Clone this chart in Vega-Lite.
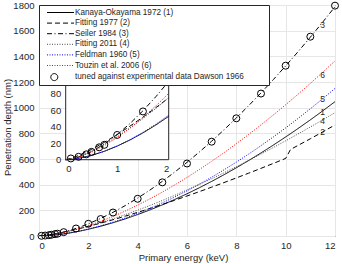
{
  "$schema": "https://vega.github.io/schema/vega-lite/v6.json",
  "width": 296,
  "height": 231,
  "autosize": "none",
  "padding": {"left": 39, "top": 5, "right": 7, "bottom": 28},
  "config": {
    "font": "Liberation Sans",
    "view": {"stroke": "#262626", "strokeWidth": 1},
    "axis": {
      "labelFont": "Liberation Sans", "labelFontSize": 9.5, "labelColor": "#262626",
      "titleFont": "Liberation Sans", "titleFontSize": 9.5, "titleFontWeight": "normal", "titleColor": "#262626",
      "ticks": false, "domain": false, "gridColor": "#e6e6e6", "gridWidth": 1, "format": "d"
    },
    "legend": {
      "orient": "top-left", "offset": 0, "padding": 2,
      "fillColor": "white", "strokeColor": "#262626",
      "labelFont": "Liberation Sans", "labelFontSize": 8.2, "labelColor": "#262626",
      "labelOffset": 23, "rowPadding": 1.6, "symbolSize": 100, "symbolStrokeWidth": 1, "labelLimit": 400
    }
  },
  "datasets": {
    "curves": [
      {"E":0,"KO":0,"F77":0,"S84":0,"F11":0,"F60":0,"T06":0},
      {"E":0.1,"KO":0.35,"F77":1.54,"S84":0.7,"F11":1.06,"F60":0.32,"T06":0.71},
      {"E":0.25,"KO":1.63,"F77":5.05,"S84":3.15,"F11":3.89,"F60":1.55,"T06":3.01},
      {"E":0.5,"KO":5.19,"F77":12.41,"S84":9.8,"F11":10.44,"F60":5.07,"T06":9.0},
      {"E":0.75,"KO":10.21,"F77":21.0,"S84":19.04,"F11":18.59,"F60":10.12,"T06":17.07},
      {"E":1,"KO":16.5,"F77":30.5,"S84":30.5,"F11":28.0,"F60":16.54,"T06":26.9},
      {"E":1.25,"KO":23.95,"F77":40.74,"S84":43.96,"F11":38.46,"F60":24.21,"T06":38.27},
      {"E":1.5,"KO":32.48,"F77":51.61,"S84":59.26,"F11":49.86,"F60":33.05,"T06":51.05},
      {"E":1.75,"KO":42.01,"F77":63.03,"S84":76.28,"F11":62.09,"F60":42.99,"T06":65.12},
      {"E":2,"KO":52.5,"F77":74.94,"S84":94.93,"F11":75.08,"F60":54.0,"T06":80.42},
      {"E":2.5,"KO":76.22,"F77":100.1,"S84":136.8,"F11":103.1,"F60":79.04,"T06":114.4},
      {"E":3,"KO":103.3,"F77":126.8,"S84":184.4,"F11":133.7,"F60":107.9,"T06":152.6},
      {"E":3.5,"KO":133.7,"F77":154.9,"S84":237.4,"F11":166.5,"F60":140.4,"T06":194.7},
      {"E":4,"KO":167.1,"F77":184.2,"S84":295.4,"F11":201.3,"F60":176.3,"T06":240.4},
      {"E":4.5,"KO":203.4,"F77":214.6,"S84":358.3,"F11":238.1,"F60":215.6,"T06":289.6},
      {"E":5,"KO":242.5,"F77":246.0,"S84":425.8,"F11":276.6,"F60":258.1,"T06":342.1},
      {"E":5.5,"KO":284.4,"F77":278.3,"S84":497.8,"F11":316.8,"F60":303.6,"T06":397.7},
      {"E":6,"KO":328.9,"F77":311.6,"S84":573.9,"F11":358.5,"F60":352.3,"T06":456.3},
      {"E":6.5,"KO":375.9,"F77":345.7,"S84":654.4,"F11":401.8,"F60":403.8,"T06":517.8},
      {"E":7,"KO":425.4,"F77":380.6,"S84":738.9,"F11":446.4,"F60":458.2,"T06":582.1},
      {"E":7.5,"KO":477.4,"F77":416.2,"S84":827.3,"F11":492.5,"F60":515.6,"T06":649.2},
      {"E":8,"KO":531.7,"F77":452.5,"S84":919.6,"F11":539.9,"F60":575.6,"T06":718.8},
      {"E":8.5,"KO":588.3,"F77":489.6,"S84":1015.5,"F11":588.5,"F60":638.4,"T06":791.1},
      {"E":9,"KO":647.2,"F77":527.3,"S84":1115.2,"F11":638.4,"F60":703.8,"T06":865.9},
      {"E":9.5,"KO":708.4,"F77":565.5,"S84":1218.5,"F11":689.4,"F60":771.9,"T06":943.1},
      {"E":10,"KO":771.8,"F77":604.4,"S84":1325.4,"F11":741.6,"F60":842.5,"T06":1022.7},
      {"E":10.2,"KO":797.7,"F77":675.0,"S84":1369.1,"F11":762.8,"F60":871.4,"T06":1055.2},
      {"E":10.5,"KO":837.3,"F77":705.6,"S84":1435.6,"F11":794.9,"F60":915.6,"T06":1104.7},
      {"E":11,"KO":904.9,"F77":757.7,"S84":1549.2,"F11":849.4,"F60":991.3,"T06":1188.9},
      {"E":11.5,"KO":974.7,"F77":811.0,"S84":1666.2,"F11":904.8,"F60":1069.5,"T06":1275.4},
      {"E":12,"KO":1046.6,"F77":865.6,"S84":1786.5,"F11":961.3,"F60":1150.1,"T06":1364.2}
    ],
    "dawson": [
      {"E":0.1,"R":1.5},{"E":0.25,"R":3.5},{"E":0.4,"R":6.5},{"E":0.5,"R":9.5},
      {"E":0.65,"R":15},{"E":0.75,"R":18},{"E":1,"R":30},{"E":1.5,"R":58.5},
      {"E":2,"R":95},{"E":2.5,"R":132},{"E":3,"R":183},{"E":4,"R":290},
      {"E":5,"R":418},{"E":6,"R":565},{"E":7,"R":735},{"E":8,"R":917},
      {"E":9,"R":1110},{"E":10,"R":1327},{"E":11,"R":1553},{"E":12,"R":1795}
    ],
    "tags": [
      {"E":11.5,"R":1646,"tag":"3"},
      {"E":11.5,"R":1256,"tag":"6"},
      {"E":11.5,"R":1065,"tag":"5"},
      {"E":11.5,"R":970,"tag":"1"},
      {"E":11.5,"R":900,"tag":"4"},
      {"E":11.5,"R":812,"tag":"2"}
    ]
  },
  "layer": [
    {
      "resolve": {"axis": {"y": "independent"}},
      "layer": [
        {
          "data": {"name": "curves"},
          "transform": [{"fold": ["KO","F77","S84","F11","F60","T06"], "as": ["series","R"]}],
          "mark": {"type": "line", "strokeWidth": 1, "clip": true},
          "encoding": {
            "x": {"field": "E", "type": "quantitative",
              "scale": {"domain": [0,12], "nice": false},
              "axis": {"values": [0,2,4,6,8,10,12], "title": "Primary energy (keV)", "labelPadding": 4, "labelOverlap": false,
                "grid": true, "titleX": 144, "titleY": 21.7, "titleBaseline": "middle", "titleAlign": "center"}},
            "y": {"field": "R", "type": "quantitative",
              "scale": {"domain": [0,1800], "nice": false},
              "axis": {"orient": "left", "values": [0,400,800,1200,1600], "title": "Penetration depth (nm)", "labelOverlap": false,
                "labelPadding": 5, "grid": true, "titleX": -31.5, "titleY": 122, "titleBaseline": "middle", "titleAlign": "center", "titleAngle": -90}},
            "color": {"field": "series", "type": "nominal",
              "scale": {"domain": ["KO","F77","S84","F11","F60","T06","D66"],
                "range": ["#000000","#000000","#000000","#4d4d4d","#0000ff","#ff0000","#000000"]},
              "legend": {"title": "\u00a0", "titleOrient": "right", "titlePadding": 23, "titleFontSize": 8,
                "labelExpr": "datum.value === 'KO' ? 'Kanaya-Okayama 1972 (1)' : datum.value === 'F77' ? 'Fitting 1977 (2)' : datum.value === 'S84' ? 'Seiler 1984 (3)' : datum.value === 'F11' ? 'Fitting 2011 (4)' : datum.value === 'F60' ? 'Feldman 1960 (5)' : datum.value === 'T06' ? 'Touzin et al. 2006 (6)' : 'tuned against experimental data Dawson 1966'",
                "encode": {
                  "symbols": {"update": {
                  "shape": {"signal": "datum.value === 'D66' ? 'M2.26,0A0.7,0.7,0,1,1,0.86,0A0.7,0.7,0,1,1,2.26,0Z' : 'M0.1,0H5.5'"},
                  "fill": {"value": "transparent"}}}}}},
            "strokeDash": {"field": "series", "type": "nominal",
              "scale": {"domain": ["KO","F77","S84","F11","F60","T06","D66"],
                "range": [[1,0],[5,3],[5,2.5,1,2.5],[1,1.5],[1,1.5],[1,1.5],[1,0]]},
              "legend": {"title": "\u00a0", "titleOrient": "right", "titlePadding": 23, "titleFontSize": 8,
                "labelExpr": "datum.value === 'KO' ? 'Kanaya-Okayama 1972 (1)' : datum.value === 'F77' ? 'Fitting 1977 (2)' : datum.value === 'S84' ? 'Seiler 1984 (3)' : datum.value === 'F11' ? 'Fitting 2011 (4)' : datum.value === 'F60' ? 'Feldman 1960 (5)' : datum.value === 'T06' ? 'Touzin et al. 2006 (6)' : 'tuned against experimental data Dawson 1966'",
                "encode": {
                  "symbols": {"update": {
                  "shape": {"signal": "datum.value === 'D66' ? 'M2.26,0A0.7,0.7,0,1,1,0.86,0A0.7,0.7,0,1,1,2.26,0Z' : 'M0.1,0H5.5'"},
                  "fill": {"value": "transparent"}}}}}}
          }
        },
        {
          "data": {"name": "dawson"},
          "mark": {"type": "point", "shape": "circle", "size": 49, "filled": false, "stroke": "#000000", "strokeWidth": 1, "opacity": 1},
          "encoding": {
            "x": {"field": "E", "type": "quantitative"},
            "y": {"field": "R", "type": "quantitative",
              "axis": {"orient": "left", "values": [200,600,1000,1400,1800], "title": null, "labelOverlap": false, "labelPadding": 5, "grid": true}}
          }
        },
        {
          "data": {"name": "tags"},
          "mark": {"type": "text", "fontSize": 8.5, "color": "#262626", "baseline": "middle", "align": "center"},
          "encoding": {
            "x": {"field": "E", "type": "quantitative"},
            "y": {"field": "R", "type": "quantitative", "axis": null},
            "text": {"field": "tag"}
          }
        }
      ]
    },
    {
      "layer": [
        {
          "data": {"values": [{}]},
          "mark": {"type": "rect", "fill": "white", "stroke": "#262626", "strokeWidth": 1},
          "encoding": {
            "x": {"datum": 0, "type": "quantitative",
              "scale": {"domain": [0,2], "range": [26.7,129.7], "nice": false},
              "axis": {"orient": "bottom", "offset": -76.3, "values": [0,1,2], "title": null, "grid": false, "labelPadding": 3.5, "labelOverlap": false}},
            "x2": {"datum": 2},
            "y": {"datum": 0, "type": "quantitative",
              "scale": {"domain": [0,95], "range": [154.7,76.3], "nice": false},
              "axis": {"orient": "left", "offset": -26.7, "values": [0,20,40,60,80], "title": null, "grid": false, "labelPadding": 5, "labelOverlap": false}},
            "y2": {"datum": 95}
          }
        },
        {
          "data": {"name": "curves"},
          "transform": [{"filter": "datum.E <= 2"}, {"fold": ["KO","F77","S84","F11","F60","T06"], "as": ["series","R"]}],
          "mark": {"type": "line", "strokeWidth": 1},
          "encoding": {
            "x": {"field": "E", "type": "quantitative", "scale": {"domain": [0,2], "range": [26.7,129.7], "nice": false}},
            "y": {"field": "R", "type": "quantitative", "scale": {"domain": [0,95], "range": [154.7,76.3], "nice": false}},
            "color": {"field": "series", "type": "nominal"},
            "strokeDash": {"field": "series", "type": "nominal"}
          }
        },
        {
          "data": {"name": "dawson"},
          "transform": [{"filter": "datum.E <= 2"}],
          "mark": {"type": "point", "shape": "circle", "size": 49, "filled": false, "stroke": "#000000", "strokeWidth": 1, "opacity": 1},
          "encoding": {
            "x": {"field": "E", "type": "quantitative", "scale": {"domain": [0,2], "range": [26.7,129.7], "nice": false}},
            "y": {"field": "R", "type": "quantitative", "scale": {"domain": [0,95], "range": [154.7,76.3], "nice": false}}
          }
        }
      ]
    }
  ],
  "resolve": {"scale": {"x": "independent", "y": "independent"}}
}
